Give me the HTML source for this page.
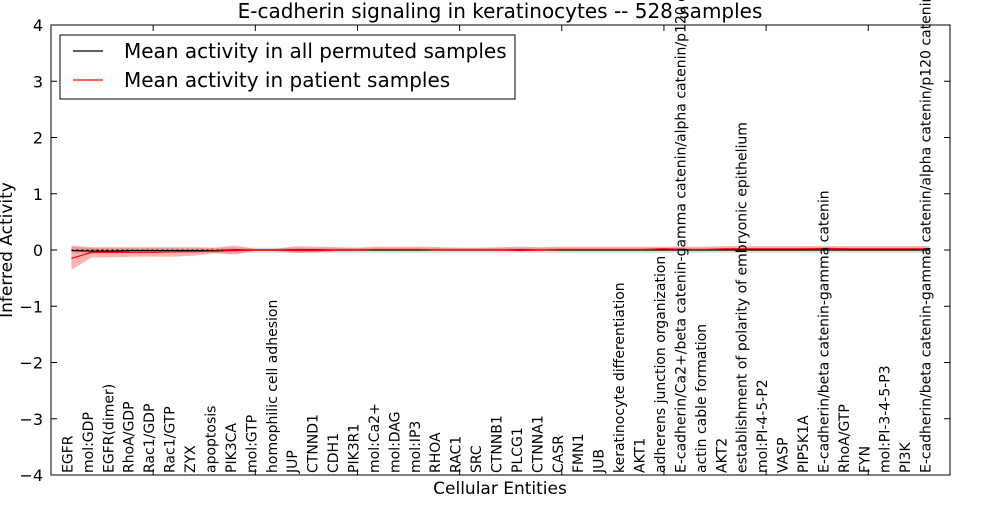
<!DOCTYPE html>
<html><head><meta charset="utf-8"><style>
body{margin:0;background:#fff;}
svg{font-family:"DejaVu Sans","Liberation Sans",sans-serif;}
</style></head><body>
<svg id="chart" width="1000" height="500" viewBox="0 0 1000 500">
<rect x="0" y="0" width="1000" height="500" fill="#fff"/>
<g id="plot"></g>
</svg>
<script>
const categories=["EGFR","mol:GDP","EGFR(dimer)","RhoA/GDP","Rac1/GDP","Rac1/GTP","ZYX","apoptosis","PIK3CA","mol:GTP","homophilic cell adhesion","JUP","CTNND1","CDH1","PIK3R1","mol:Ca2+","mol:DAG","mol:IP3","RHOA","RAC1","SRC","CTNNB1","PLCG1","CTNNA1","CASR","FMN1","JUB","keratinocyte differentiation","AKT1","adherens junction organization","E-cadherin/Ca2+/beta catenin-gamma catenin/alpha catenin/p120 catenin","actin cable formation","AKT2","establishment of polarity of embryonic epithelium","mol:PI-4-5-P2","VASP","PIP5K1A","E-cadherin/beta catenin-gamma catenin","RhoA/GTP","FYN","mol:PI-3-4-5-P3","PI3K","E-cadherin/beta catenin-gamma catenin/alpha catenin/p120 catenin"];
const permMean=[-0.01,-0.02,-0.02,-0.01,-0.01,-0.01,-0.01,-0.01,0,0,0,0,0,0,0,0,0,0,0,0,0,0,0,0,0,0,0,0,0,0,0,0,0,0,0,0,0,0,0,0,0,0,0];
const permLow=[-0.06,-0.06,-0.06,-0.05,-0.05,-0.05,-0.05,-0.05,-0.05,-0.05,-0.05,-0.05,-0.05,-0.05,-0.05,-0.05,-0.05,-0.05,-0.05,-0.05,-0.05,-0.05,-0.05,-0.05,-0.05,-0.05,-0.05,-0.05,-0.05,-0.05,-0.05,-0.05,-0.05,-0.05,-0.05,-0.05,-0.05,-0.05,-0.05,-0.05,-0.05,-0.05,-0.05];
const permHigh=[0.05,0.04,0.04,0.04,0.04,0.04,0.04,0.04,0.04,0.04,0.04,0.04,0.04,0.04,0.04,0.04,0.04,0.04,0.04,0.04,0.04,0.04,0.04,0.04,0.04,0.04,0.04,0.04,0.04,0.04,0.04,0.04,0.04,0.04,0.04,0.04,0.04,0.04,0.04,0.04,0.04,0.04,0.04];
const patMean=[-0.15,-0.04,-0.04,-0.04,-0.04,-0.03,-0.03,-0.02,-0.01,0,0,-0.01,-0.01,0,0,0.01,0.01,0.01,0,0,0,0,-0.01,0,0.01,0.01,0.01,0.01,0.01,0.02,0.01,0.01,0.02,0.02,0.02,0.02,0.02,0.03,0.02,0.02,0.02,0.02,0.02];
const patLow=[-0.35,-0.13,-0.13,-0.12,-0.12,-0.12,-0.1,-0.06,-0.08,-0.01,-0.02,-0.05,-0.04,-0.02,-0.02,-0.01,-0.01,-0.01,-0.01,-0.01,-0.01,-0.01,-0.02,-0.01,-0.01,-0.01,-0.01,-0.01,-0.01,-0.01,-0.01,-0.01,-0.01,0,0,0,0,0,0,0,0,0,0];
const patHigh=[0.08,0.05,0.05,0.05,0.05,0.05,0.05,0.04,0.08,0.02,0.02,0.07,0.06,0.05,0.04,0.06,0.06,0.06,0.05,0.04,0.04,0.05,0.06,0.05,0.06,0.06,0.06,0.06,0.06,0.06,0.06,0.06,0.07,0.07,0.07,0.07,0.07,0.07,0.07,0.07,0.07,0.07,0.07];
const yTicks=[-4,-3,-2,-1,0,1,2,3,4];
const yTickLabels=["\u22124","\u22123","\u22122","\u22121","0","1","2","3","4"];
const xTicks=[0,5,10,15,20,25,30,35,40];

const L=51,R=950,T=25,B=475,XMIN=0,XMAX=44,YMIN=-4,YMAX=4;
const xs=v=>L+(v-XMIN)/(XMAX-XMIN)*(R-L);
const ys=v=>B-(v-YMIN)/(YMAX-YMIN)*(B-T);
const NS="http://www.w3.org/2000/svg";
const g=document.getElementById('plot');
function mk(tag,attrs,parent){const e=document.createElementNS(NS,tag);for(const k in attrs)e.setAttribute(k,attrs[k]);(parent||g).appendChild(e);return e;}
function band(lo,hi,fill,op,name){
  let d="";categories.forEach((c,i)=>{d+=(i?"L":"M")+xs(i+1)+","+ys(hi[i]);});
  for(let i=categories.length-1;i>=0;i--)d+="L"+xs(i+1)+","+ys(lo[i]);
  const p=mk('path',{d:d+"Z",fill:fill,'fill-opacity':op,stroke:'none'});
  
  
}
function line(vals,stroke,name,dash){
  const pts=vals.map((v,i)=>xs(i+1)+","+ys(v)).join(" ");
  const a={points:pts,fill:'none',stroke:stroke,'stroke-width':1.2};
  if(dash)a['stroke-dasharray']=dash;
  const p=mk('polyline',a);
  
  
}
band(permLow,permHigh,'#bbbbbb',0.5,'permuted-band');
band(patLow,patHigh,'#ff0000',0.3,'patient-band');
const zl=mk('line',{x1:xs(1),x2:xs(43),y1:ys(0),y2:ys(0),stroke:'#000','stroke-dasharray':'2,3','stroke-width':1});


line(permMean,'#000','permuted-mean-line');
line(patMean,'#ff0000','patient-mean-line');

const fr=mk('rect',{x:L,y:T,width:R-L,height:B-T,fill:'none',stroke:'#000','stroke-width':1});


yTicks.forEach((v,i)=>{
  const y=ys(v);
  mk('line',{x1:L,x2:L+6,y1:y,y2:y,stroke:'#000'});
  mk('line',{x1:R,x2:R-6,y1:y,y2:y,stroke:'#000'});
  const t=mk('text',{x:L-8,y:y+6,'text-anchor':'end','font-size':16});
  t.textContent=yTickLabels[i];
  
  
});
xTicks.forEach(v=>{
  const x=xs(v);
  mk('line',{x1:x,x2:x,y1:B,y2:B-6,stroke:'#000'});
  mk('line',{x1:x,x2:x,y1:T,y2:T+6,stroke:'#000'});
});
categories.forEach((c,i)=>{
  const x=xs(i+1)-3;
  const t=mk('text',{x:0,y:0,transform:`translate(${x},473) rotate(-90)`,'font-size':14,'dominant-baseline':'middle'});
  t.textContent=c;
  
  
});
const ti=mk('text',{x:500,y:18,'text-anchor':'middle','font-size':20});
ti.textContent="E-cadherin signaling in keratinocytes -- 528 samples";


const xt=mk('text',{x:500,y:494,'text-anchor':'middle','font-size':17});
xt.textContent="Cellular Entities";


const yt=mk('text',{x:0,y:0,transform:'translate(12,250) rotate(-90)','text-anchor':'middle','font-size':17});
yt.textContent="Inferred Activity";


const lg=mk('g',{});


mk('rect',{x:60,y:35,width:455,height:64,fill:'#fff',stroke:'#000','stroke-width':1},lg);
mk('line',{x1:73,x2:103,y1:51,y2:51,stroke:'#000','stroke-width':1.2},lg);
mk('line',{x1:73,x2:103,y1:80,y2:80,stroke:'#ff0000','stroke-width':1.2},lg);
const l1=mk('text',{x:124,y:58,'font-size':20},lg);
l1.textContent="Mean activity in all permuted samples";


const l2=mk('text',{x:124,y:87,'font-size':20},lg);
l2.textContent="Mean activity in patient samples";


</script>
</body></html>
